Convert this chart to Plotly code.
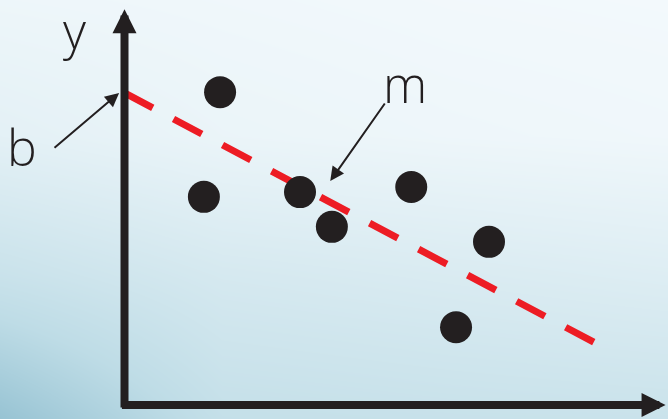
import plotly.graph_objects as go

# ---- data (chart units: origin at the axes corner) ----
point_x = [1.77, 1.47, 3.25, 3.84, 5.31, 6.75, 6.14]
point_y = [7.92, 5.27, 5.39, 4.51, 5.52, 4.13, 1.97]

fit_x = [0.0, 8.69]
fit_y = [7.90, 1.59]

axis_tip = 10.02

# labels: (text, x, y)
label_text = ["y", "b", "m"]
label_x = [-0.917, -1.898, 5.19]
label_y = [9.49, 6.53, 8.13]

# pointer arrows: tail -> tip
ptr_tail_x = [-1.324, 4.84]
ptr_tail_y = [6.48, 7.67]
ptr_tip_x = [-0.10, 3.81]
ptr_tip_y = [7.90, 5.67]

# background shading grid (0 = dark blue, 1 = almost white)
bg_x = [-2.5, 1.8, 6.0, 10.3]
bg_y = [10.4, 6.8, 3.3, -0.5]
bg_z = [
    [0.95, 0.97, 0.99, 1.00],
    [0.85, 0.92, 0.95, 0.97],
    [0.60, 0.72, 0.76, 0.80],
    [0.22, 0.55, 0.58, 0.60],
]

W, H = 668, 419
X_RANGE = [-124.5 / 54, (W - 124.5) / 54]
Y_RANGE = [(405 - H) / 39.5, 405 / 39.5]

fig = go.Figure()

fig.add_trace(go.Heatmap(
    x=bg_x, y=bg_y, z=bg_z, zsmooth="best", showscale=False, hoverinfo="skip",
    colorscale=[[0, "rgb(112,170,192)"], [0.5, "rgb(190,220,230)"], [1, "rgb(243,249,252)"]],
    zmin=0, zmax=1,
))

fig.add_trace(go.Scatter(
    x=fit_x, y=fit_y, mode="lines", hoverinfo="skip",
    line=dict(color="#ed1c24", width=7, dash="32px,23.5px"),
))

fig.add_trace(go.Scatter(
    x=point_x, y=point_y, mode="markers", hoverinfo="skip",
    marker=dict(size=32, color="#231f20", line=dict(width=0)),
))

annotations = []
# axes with arrowheads
annotations.append(dict(x=0, y=axis_tip, ax=0, ay=-0.1, xref="x", yref="y", axref="x", ayref="y",
                        text="", showarrow=True, arrowhead=2, arrowsize=0.6, arrowwidth=8,
                        arrowcolor="#231f20", standoff=0))
annotations.append(dict(x=axis_tip, y=0, ax=-0.075, ay=0, xref="x", yref="y", axref="x", ayref="y",
                        text="", showarrow=True, arrowhead=2, arrowsize=0.6, arrowwidth=8,
                        arrowcolor="#231f20", standoff=0))
# pointer arrows
for tx, ty, hx, hy in zip(ptr_tail_x, ptr_tail_y, ptr_tip_x, ptr_tip_y):
    annotations.append(dict(x=hx, y=hy, ax=tx, ay=ty, xref="x", yref="y", axref="x", ayref="y",
                            text="", showarrow=True, arrowhead=2, arrowsize=1.4, arrowwidth=2,
                            arrowcolor="#231f20", standoff=0))
# labels
for t, lx, ly in zip(label_text, label_x, label_y):
    annotations.append(dict(x=lx, y=ly, xref="x", yref="y", text=t, showarrow=False,
                            xanchor="center", yanchor="middle",
                            font=dict(family="Open Sans", size=50, weight=300, color="#231f20")))

fig.update_layout(
    width=W, height=H,
    margin=dict(l=0, r=0, t=0, b=0),
    paper_bgcolor="#f3f9fc", plot_bgcolor="#f3f9fc",
    showlegend=False,
    xaxis=dict(range=X_RANGE, visible=False, fixedrange=True),
    yaxis=dict(range=Y_RANGE, visible=False, fixedrange=True),
    annotations=annotations,
)

fig.write_html("out.html", config={"displayModeBar": False},
               post_script="document.body.style.margin='0';document.body.style.overflow='hidden';")
